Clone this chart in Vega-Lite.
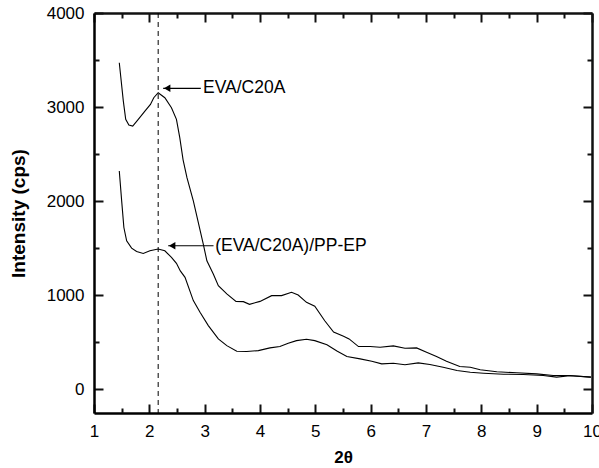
{
  "$schema": "https://vega.github.io/schema/vega-lite/v6.json",
  "width": 498,
  "height": 400,
  "autosize": "none",
  "padding": {"left": 94, "top": 13, "right": 7, "bottom": 55},
  "background": "white",
  "config": {
    "view": {"stroke": null},
    "font": "Liberation Sans",
    "axis": {
      "grid": false,
      "domainColor": "black",
      "domainWidth": 2.5,
      "labelColor": "black",
      "titleColor": "black",
      "labelFont": "Liberation Sans",
      "titleFont": "Liberation Sans",
      "labelFontSize": 17,
      "titleFontSize": 17,
      "titleFontWeight": "bold"
    }
  },
  "datasets": {
    "curves": [
      {"series": "EVA/C20A", "x": 1.457, "y": 3471},
      {"series": "EVA/C20A", "x": 1.53, "y": 3064},
      {"series": "EVA/C20A", "x": 1.573, "y": 2870},
      {"series": "EVA/C20A", "x": 1.63, "y": 2810},
      {"series": "EVA/C20A", "x": 1.70, "y": 2799},
      {"series": "EVA/C20A", "x": 1.80, "y": 2870},
      {"series": "EVA/C20A", "x": 1.92, "y": 2958},
      {"series": "EVA/C20A", "x": 2.02, "y": 3029},
      {"series": "EVA/C20A", "x": 2.08, "y": 3100},
      {"series": "EVA/C20A", "x": 2.16, "y": 3153},
      {"series": "EVA/C20A", "x": 2.28, "y": 3100},
      {"series": "EVA/C20A", "x": 2.40, "y": 2994},
      {"series": "EVA/C20A", "x": 2.49, "y": 2870},
      {"series": "EVA/C20A", "x": 2.55, "y": 2675},
      {"series": "EVA/C20A", "x": 2.61, "y": 2440},
      {"series": "EVA/C20A", "x": 2.68, "y": 2250},
      {"series": "EVA/C20A", "x": 2.795, "y": 2004},
      {"series": "EVA/C20A", "x": 2.975, "y": 1545},
      {"series": "EVA/C20A", "x": 3.04, "y": 1367},
      {"series": "EVA/C20A", "x": 3.156, "y": 1227},
      {"series": "EVA/C20A", "x": 3.247, "y": 1102},
      {"series": "EVA/C20A", "x": 3.40, "y": 1015},
      {"series": "EVA/C20A", "x": 3.566, "y": 936},
      {"series": "EVA/C20A", "x": 3.70, "y": 933},
      {"series": "EVA/C20A", "x": 3.81, "y": 905},
      {"series": "EVA/C20A", "x": 4.0, "y": 936},
      {"series": "EVA/C20A", "x": 4.21, "y": 997},
      {"series": "EVA/C20A", "x": 4.39, "y": 997},
      {"series": "EVA/C20A", "x": 4.57, "y": 1032},
      {"series": "EVA/C20A", "x": 4.69, "y": 1004},
      {"series": "EVA/C20A", "x": 4.84, "y": 926},
      {"series": "EVA/C20A", "x": 4.99, "y": 885},
      {"series": "EVA/C20A", "x": 5.17, "y": 730},
      {"series": "EVA/C20A", "x": 5.33, "y": 610},
      {"series": "EVA/C20A", "x": 5.51, "y": 565},
      {"series": "EVA/C20A", "x": 5.61, "y": 537},
      {"series": "EVA/C20A", "x": 5.78, "y": 456},
      {"series": "EVA/C20A", "x": 5.99, "y": 456},
      {"series": "EVA/C20A", "x": 6.17, "y": 449},
      {"series": "EVA/C20A", "x": 6.41, "y": 463},
      {"series": "EVA/C20A", "x": 6.62, "y": 438},
      {"series": "EVA/C20A", "x": 6.83, "y": 442},
      {"series": "EVA/C20A", "x": 7.01, "y": 396},
      {"series": "EVA/C20A", "x": 7.19, "y": 350},
      {"series": "EVA/C20A", "x": 7.37, "y": 300},
      {"series": "EVA/C20A", "x": 7.61, "y": 244},
      {"series": "EVA/C20A", "x": 7.80, "y": 236},
      {"series": "EVA/C20A", "x": 7.98, "y": 209},
      {"series": "EVA/C20A", "x": 8.28, "y": 188},
      {"series": "EVA/C20A", "x": 8.64, "y": 177},
      {"series": "EVA/C20A", "x": 9.0, "y": 166},
      {"series": "EVA/C20A", "x": 9.30, "y": 148},
      {"series": "EVA/C20A", "x": 9.60, "y": 148},
      {"series": "EVA/C20A", "x": 9.98, "y": 131},
      {"series": "PP", "x": 1.457, "y": 2322},
      {"series": "PP", "x": 1.50, "y": 2004},
      {"series": "PP", "x": 1.54, "y": 1721},
      {"series": "PP", "x": 1.59, "y": 1580},
      {"series": "PP", "x": 1.68, "y": 1502},
      {"series": "PP", "x": 1.77, "y": 1466},
      {"series": "PP", "x": 1.89, "y": 1445},
      {"series": "PP", "x": 2.01, "y": 1474},
      {"series": "PP", "x": 2.16, "y": 1492},
      {"series": "PP", "x": 2.28, "y": 1474},
      {"series": "PP", "x": 2.40, "y": 1403},
      {"series": "PP", "x": 2.49, "y": 1340},
      {"series": "PP", "x": 2.56, "y": 1260},
      {"series": "PP", "x": 2.645, "y": 1191},
      {"series": "PP", "x": 2.795, "y": 944},
      {"series": "PP", "x": 2.916, "y": 820},
      {"series": "PP", "x": 3.066, "y": 679},
      {"series": "PP", "x": 3.247, "y": 537},
      {"series": "PP", "x": 3.40, "y": 466},
      {"series": "PP", "x": 3.58, "y": 406},
      {"series": "PP", "x": 3.76, "y": 403},
      {"series": "PP", "x": 3.97, "y": 413},
      {"series": "PP", "x": 4.18, "y": 442},
      {"series": "PP", "x": 4.36, "y": 456},
      {"series": "PP", "x": 4.51, "y": 491},
      {"series": "PP", "x": 4.66, "y": 519},
      {"series": "PP", "x": 4.84, "y": 533},
      {"series": "PP", "x": 4.99, "y": 519},
      {"series": "PP", "x": 5.21, "y": 475},
      {"series": "PP", "x": 5.39, "y": 408},
      {"series": "PP", "x": 5.57, "y": 350},
      {"series": "PP", "x": 5.81, "y": 325},
      {"series": "PP", "x": 6.02, "y": 300},
      {"series": "PP", "x": 6.20, "y": 272},
      {"series": "PP", "x": 6.41, "y": 279},
      {"series": "PP", "x": 6.62, "y": 262},
      {"series": "PP", "x": 6.86, "y": 283},
      {"series": "PP", "x": 7.07, "y": 265},
      {"series": "PP", "x": 7.31, "y": 236},
      {"series": "PP", "x": 7.56, "y": 201},
      {"series": "PP", "x": 7.80, "y": 183},
      {"series": "PP", "x": 8.04, "y": 173},
      {"series": "PP", "x": 8.40, "y": 162},
      {"series": "PP", "x": 8.76, "y": 159},
      {"series": "PP", "x": 9.12, "y": 148},
      {"series": "PP", "x": 9.36, "y": 131},
      {"series": "PP", "x": 9.60, "y": 145},
      {"series": "PP", "x": 9.98, "y": 131}
    ],
    "arrows": [
      {"label": "EVA/C20A", "x": 2.25, "x2": 2.93, "y": 3200, "tx": 2.97},
      {"label": "(EVA/C20A)/PP-EP", "x": 2.34, "x2": 3.16, "y": 1527, "tx": 3.19}
    ],
    "ref": [{"x": 2.16}]
  },
  "resolve": {"axis": {"x": "independent", "y": "independent"}},
  "layer": [
    {
      "data": {"name": "curves"},
      "mark": {"type": "line", "color": "black", "strokeWidth": 1.1},
      "encoding": {
        "x": {
          "field": "x", "type": "quantitative",
          "scale": {"domain": [1, 10], "nice": false, "zero": false},
          "axis": {
            "orient": "bottom", "title": "2θ", "titlePadding": 10,
            "values": [1, 2, 3, 4, 5, 6, 7, 8, 9, 10],
            "format": "d",
            "tickSize": -9, "tickColor": "#111111", "tickWidth": 2,
            "labelPadding": 19, "labelFlush": false
          }
        },
        "y": {
          "field": "y", "type": "quantitative",
          "scale": {"domain": [-250, 4000], "nice": false, "zero": false},
          "axis": {
            "orient": "left", "title": "Intensity (cps)", "titlePadding": 18, "titleFontSize": 19,
            "values": [0, 1000, 2000, 3000, 4000],
            "format": "d",
            "tickSize": -9, "tickColor": "#111111", "tickWidth": 2,
            "labelPadding": 19
          }
        },
        "detail": {"field": "series"}
      }
    },
    {
      "data": {"name": "ref"},
      "mark": {"type": "rule", "color": "black", "strokeWidth": 1, "strokeDash": [5, 4]},
      "encoding": {
        "x": {
          "field": "x", "type": "quantitative",
          "axis": {
            "orient": "top", "title": null, "labels": false,
            "values": [1, 2, 3, 4, 5, 6, 7, 8, 9, 10],
            "domainColor": "#111111",
            "tickSize": -9, "tickColor": "#111111", "tickWidth": 2
          }
        }
      }
    },
    {
      "data": {"name": "ref"},
      "mark": {"type": "point", "opacity": 0},
      "encoding": {
        "x": {"field": "x", "type": "quantitative", "axis": null},
        "y": {
          "datum": 0, "type": "quantitative",
          "axis": {
            "orient": "right", "title": null, "labels": false,
            "values": [0, 1000, 2000, 3000, 4000],
            "domainColor": "#111111",
            "tickSize": -9, "tickColor": "#111111", "tickWidth": 2
          }
        }
      }
    },
    {
      "data": {"name": "ref"},
      "mark": {"type": "point", "opacity": 0},
      "encoding": {
        "x": {
          "field": "x", "type": "quantitative",
          "axis": {
            "orient": "bottom", "title": null, "labels": false, "domain": false,
            "values": [1.5, 2.5, 3.5, 4.5, 5.5, 6.5, 7.5, 8.5, 9.5],
            "tickSize": -5, "tickColor": "#111111", "tickWidth": 2
          }
        },
        "y": {
          "datum": 0, "type": "quantitative",
          "axis": {
            "orient": "left", "title": null, "labels": false, "domain": false,
            "values": [500, 1500, 2500, 3500],
            "tickSize": -5, "tickColor": "#111111", "tickWidth": 2
          }
        }
      }
    },
    {
      "data": {"name": "ref"},
      "mark": {"type": "point", "opacity": 0},
      "encoding": {
        "x": {
          "field": "x", "type": "quantitative",
          "axis": {
            "orient": "top", "title": null, "labels": false, "domain": false,
            "values": [1.5, 2.5, 3.5, 4.5, 5.5, 6.5, 7.5, 8.5, 9.5],
            "tickSize": -5, "tickColor": "#111111", "tickWidth": 2
          }
        },
        "y": {
          "datum": 0, "type": "quantitative",
          "axis": {
            "orient": "right", "title": null, "labels": false, "domain": false,
            "values": [500, 1500, 2500, 3500],
            "tickSize": -5, "tickColor": "#111111", "tickWidth": 2
          }
        }
      }
    },
    {
      "data": {"name": "arrows"},
      "mark": {"type": "rule", "color": "black", "strokeWidth": 1.2},
      "encoding": {
        "x": {"field": "x", "type": "quantitative", "axis": null},
        "x2": {"field": "x2"},
        "y": {"field": "y", "type": "quantitative", "axis": null}
      }
    },
    {
      "data": {"name": "arrows"},
      "mark": {"type": "point", "shape": "triangle-left", "filled": true, "color": "black", "size": 55, "opacity": 1, "xOffset": 4},
      "encoding": {
        "x": {"field": "x", "type": "quantitative", "axis": null},
        "y": {"field": "y", "type": "quantitative", "axis": null}
      }
    },
    {
      "data": {"name": "arrows"},
      "mark": {"type": "text", "align": "left", "baseline": "middle", "fontSize": 17.5, "font": "Liberation Sans", "color": "black"},
      "encoding": {
        "x": {"field": "tx", "type": "quantitative", "axis": null},
        "y": {"field": "y", "type": "quantitative", "axis": null},
        "text": {"field": "label"}
      }
    }
  ]
}
